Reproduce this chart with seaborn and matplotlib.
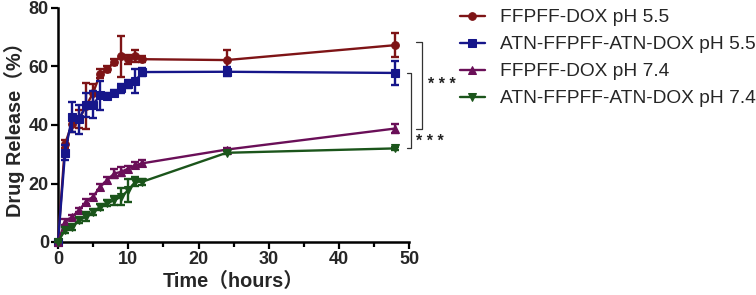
import numpy as np
import pandas as pd
import matplotlib
matplotlib.use("Agg")
import matplotlib.pyplot as plt
import seaborn as sns
from matplotlib.ticker import MultipleLocator

# ---------------- data ----------------
hours = [0, 1, 2, 3, 4, 5, 6, 7, 8, 9, 10, 11, 12, 24, 48]
labels = ["FFPFF-DOX pH 5.5", "ATN-FFPFF-ATN-DOX pH 5.5",
          "FFPFF-DOX pH 7.4", "ATN-FFPFF-ATN-DOX pH 7.4"]
ffpff_55 = [0, 33.5, 40.5, 42.0, 46.5, 51.0, 57.5, 59.0, 61.5, 63.5, 62.5, 63.5, 62.5, 62.2, 67.3]
ffpff_55_err = [0, 1.5, 3, 3, 8, 3, 1.5, 1, 1, 7, 1.5, 2, 1, 3.5, 4]
atn_55 = [0, 30.5, 42.7, 42.0, 46.8, 47.0, 50.2, 50.0, 51.0, 52.6, 54.0, 55.0, 58.1, 58.2, 57.8]
atn_55_err = [0, 2.5, 5, 5, 4, 4.5, 5, 1, 1, 1.5, 1.5, 4, 1.5, 1.5, 4]
ffpff_74 = [0, 6.9, 8.6, 10.9, 13.8, 15.5, 18.9, 21.2, 23.4, 24.0, 25.1, 26.3, 26.9, 31.6, 38.8]
ffpff_74_err = [0, 1, 0.8, 0.8, 0.8, 0.8, 1, 1, 1.5, 1.5, 1, 1, 1, 0.5, 1.5]
atn_74 = [0, 4.1, 5.2, 7.5, 8.6, 10.3, 12.0, 13.2, 14.3, 15.5, 17.7, 20.6, 20.6, 30.5, 32.0]
atn_74_err = [0, 1, 1, 1, 1.5, 1, 1, 1, 1.5, 3, 4, 1.5, 1, 0.5, 0.5]
star_text = "* * *"

series_vals = [ffpff_55, atn_55, ffpff_74, atn_74]
series_errs = [ffpff_55_err, atn_55_err, ffpff_74_err, atn_74_err]
colors = ["#7E1416", "#16168A", "#6A0F58", "#1B551B"]
markers = ["o", "s", "^", "v"]

df = pd.DataFrame({
    "Time": np.tile(hours, 4),
    "Release": np.concatenate(series_vals),
    "Series": np.repeat(labels, len(hours)),
})

sns.set_style("ticks")
plt.rcParams["font.family"] = ["Liberation Sans", "Noto Sans CJK SC", "DejaVu Sans"]

fig = plt.figure(figsize=(7.56, 2.95), dpi=100)
ax = fig.add_axes([58 / 756, 1 - 242 / 295, 351.3 / 756, 234 / 295])

sns.lineplot(data=df, x="Time", y="Release", hue="Series", style="Series",
             hue_order=labels, style_order=labels, palette=colors,
             markers=dict(zip(labels, markers)), dashes=False,
             linewidth=1.7, markersize=5.5, ax=ax, clip_on=False)

# seaborn lines: solid marker faces/edges in the series colour
for i, ln in enumerate(list(ax.lines)[:len(labels)]):
    c = colors[i]
    ln.set_color(c)
    ln.set_markeredgecolor(c)
    ln.set_markerfacecolor(c)
    ln.set_markeredgewidth(0.8)
    ln.set_zorder(3 + i)

for i, (vals, errs, c) in enumerate(zip(series_vals, series_errs, colors)):
    ax.errorbar(hours, vals, yerr=errs, fmt="none", ecolor=c, elinewidth=1.7,
                capsize=3, capthick=1.7, zorder=2.9 + i, clip_on=False)

ax.set_xlim(0, 50)
ax.set_ylim(0, 80)
ax.xaxis.set_major_locator(MultipleLocator(10))
ax.xaxis.set_minor_locator(MultipleLocator(5))
ax.yaxis.set_major_locator(MultipleLocator(20))
for s in ["top", "right"]:
    ax.spines[s].set_visible(False)
for s in ["left", "bottom"]:
    ax.spines[s].set_linewidth(1.8)
    ax.spines[s].set_color("black")
ax.tick_params(axis="both", which="major", length=5, width=1.6, labelsize=13,
               pad=1.5, color="black")
ax.tick_params(axis="x", which="minor", length=3.5, width=1.6, color="black")
for t in ax.get_xticklabels() + ax.get_yticklabels():
    t.set_fontweight("bold")
ax.set_xlabel("Time（hours）", fontsize=14.3, fontweight="bold", labelpad=3)
ax.set_ylabel("Drug Release（%）", fontsize=14.3, fontweight="bold", labelpad=3)

# significance brackets
def bracket(x_left, x_right, y_top, y_bot, tx, ty):
    ax.plot([x_left, x_right, x_right, x_left], [y_top, y_top, y_bot, y_bot],
            color="#333333", lw=0.9, clip_on=False)
    ax.text(tx, ty, star_text, ha="center", va="center", fontsize=11.5,
            fontweight="bold", color="#222222", clip_on=False)

bracket(50.95, 51.76, ffpff_55[-1] + 1.2, ffpff_74[-1], 54.6, 54.0)
bracket(49.63, 50.24, atn_55[-1], atn_74[-1], 52.9, 34.2)

handles, labs = ax.get_legend_handles_labels()
for h, c in zip(handles, colors):
    h.set_color(c)
    h.set_markeredgecolor(c)
    h.set_markerfacecolor(c)
    h.set_markersize(5.5)
if ax.get_legend():
    ax.get_legend().remove()
leg = fig.legend(handles, labs, loc="upper left",
                 bbox_to_anchor=(458 / 756, 1 - 7 / 295), frameon=False,
                 fontsize=13.8, handlelength=1.3, handletextpad=0.8,
                 labelspacing=0.5, borderpad=0.1, borderaxespad=0)

fig.savefig("out.png", dpi=100)
